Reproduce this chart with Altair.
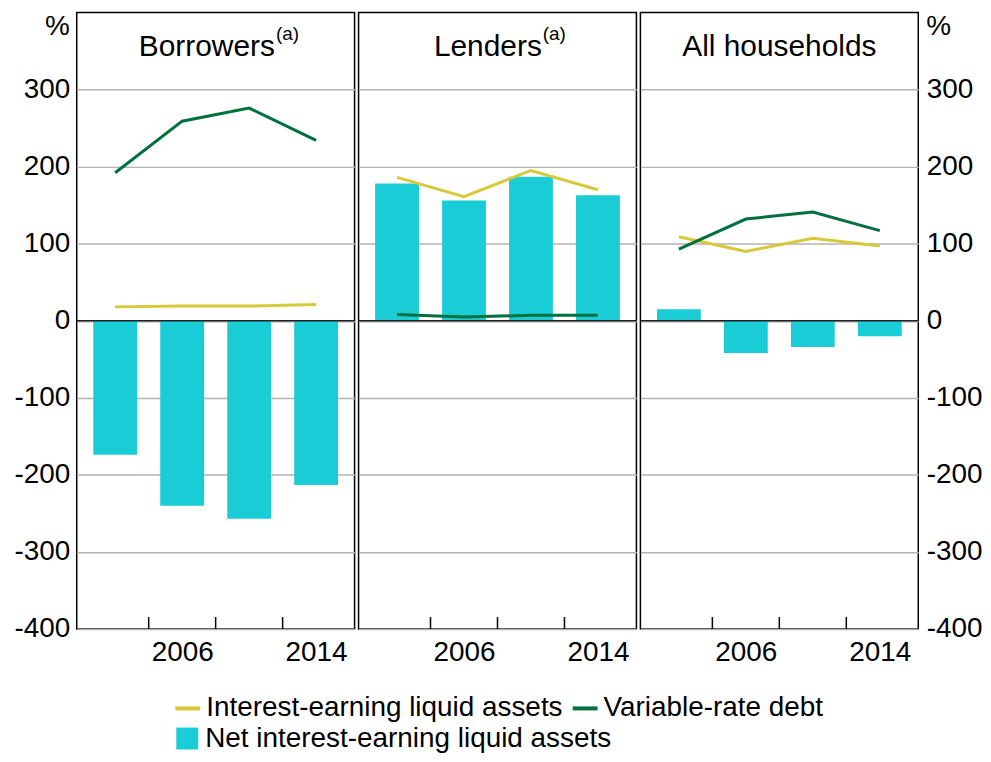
import altair as alt
import pandas as pd

years = [2002, 2006, 2010, 2014]
panel_titles = ["Borrowers", "Lenders", "All households"]
panel_sups = ["(a)", "(a)", ""]
net_liquid = [[-174, -240, -257, -213], [178, 156, 187, 163], [15, -42, -34, -20]]
liquid_assets = [[18, 19, 19, 21], [186, 161, 195, 170], [109, 90, 107, 97]]
variable_debt = [[192, 259, 276, 234], [8, 5, 7, 7], [93, 132, 141, 117]]
y_ticks = [-400, -300, -200, -100, 0, 100, 200, 300]
x_label_years = [2006, 2014]
x_tick_years = [2004, 2008, 2012]
unit_label = "%"

SERIES_LINE = ["Interest-earning liquid assets", "Variable-rate debt"]
SERIES_BAR = "Net interest-earning liquid assets"
YELLOW = "#D8C93A"
GREEN = "#00703C"
CYAN = "#19CCD6"
FONT = "Liberation Sans"
W = 279
H = 619
TITLE_ANCHOR = [199, 184, 139.5]


def text_layer(txt, size, align, x, y, baseline="alphabetic"):
    return alt.Chart(pd.DataFrame({"t": [txt]})).mark_text(
        font=FONT, fontSize=size, align=align, baseline=baseline, color="black"
    ).encode(text="t:N", x=alt.value(x), y=alt.value(y))


def panel(i):
    bars = pd.DataFrame({"year": years, "value": net_liquid[i], "series": [SERIES_BAR] * 4})
    lines = pd.DataFrame({
        "year": years * 2,
        "value": liquid_assets[i] + variable_debt[i],
        "series": [SERIES_LINE[0]] * 4 + [SERIES_LINE[1]] * 4,
    })
    x = alt.X("year:Q", scale=alt.Scale(domain=[2000, 2016], nice=False, zero=False),
              axis=alt.Axis(values=x_label_years, format="d", ticks=False, grid=False,
                            domain=False, labelPadding=10, title=None))
    if i == 0:
        yaxis = alt.Axis(orient="left", values=y_ticks, title=None,
                         labelPadding=7, ticks=False, domain=False, grid=True,
                         labelExpr="toString(datum.value)")
    elif i == 2:
        yaxis = alt.Axis(orient="right", values=y_ticks, title=None,
                         labelPadding=8, ticks=False, domain=False, grid=True,
                         labelExpr="toString(datum.value)")
    else:
        yaxis = alt.Axis(values=y_ticks, labels=False, ticks=False, domain=False,
                         title=None, grid=True)
    y = alt.Y("value:Q", scale=alt.Scale(domain=[-400, 400], nice=False), axis=yaxis)

    stroke_legend = alt.Legend(orient="none", legendX=97, legendY=684, direction="horizontal",
                               title=None, symbolType="stroke", symbolSize=625,
                               symbolStrokeWidth=4, labelFontSize=28, labelFont=FONT,
                               labelColor="black", labelOffset=4, columnPadding=2,
                               padding=0, labelLimit=0)
    fill_legend = alt.Legend(orient="none", legendX=97, legendY=715, direction="horizontal",
                             title=None, symbolType="square", symbolSize=484,
                             symbolStrokeWidth=0, labelFontSize=28, labelFont=FONT,
                             labelColor="black", labelOffset=4, padding=0, labelLimit=0)

    bar_layer = alt.Chart(bars).mark_bar(size=44).encode(
        x=x, y=y,
        fill=alt.Fill("series:N", scale=alt.Scale(domain=[SERIES_BAR], range=[CYAN]),
                      legend=fill_legend),
    )
    zero_layer = alt.Chart(pd.DataFrame({"value": [0]})).mark_rule(
        color="#222222", strokeWidth=1.5).encode(y="value:Q")
    line_layer = alt.Chart(lines).mark_line(strokeWidth=3).encode(
        x="year:Q", y="value:Q",
        stroke=alt.Stroke("series:N", scale=alt.Scale(domain=SERIES_LINE, range=[YELLOW, GREEN]),
                          legend=stroke_legend),
        order="year:Q",
    )
    tick_layer = alt.Chart(pd.DataFrame({"year": x_tick_years})).mark_rule(
        color="black", strokeWidth=1.5).encode(
        x="year:Q", y=alt.value(H), y2=alt.value(H - 12))
    anchor = TITLE_ANCHOR[i]
    layers = [bar_layer, zero_layer, line_layer, tick_layer]
    if panel_sups[i]:
        layers += [text_layer(panel_titles[i], 30, "right", anchor, 44),
                   text_layer(panel_sups[i], 19, "left", anchor + 1, 28)]
    else:
        layers += [text_layer(panel_titles[i], 30, "center", anchor, 44)]
    if i == 0:
        layers += [text_layer(unit_label, 28, "right", -7, 23)]
    if i == 2:
        layers += [text_layer(unit_label, 28, "left", W + 8, 23)]
    return alt.layer(*layers).properties(width=W, height=H)


chart = alt.hconcat(panel(0), panel(1), panel(2), spacing=0).resolve_scale(
    x="independent", y="independent", fill="shared", stroke="shared"
).properties(
    padding={"left": 5, "top": 2, "right": 0, "bottom": 0}
).configure_view(
    stroke="black", strokeWidth=1.5
).configure_axis(
    labelFont=FONT, labelFontSize=28, labelColor="black",
    gridColor="#b3b3b3", gridWidth=1.5,
)

chart.save("out.html", embed_options={"renderer": "svg", "actions": False})
